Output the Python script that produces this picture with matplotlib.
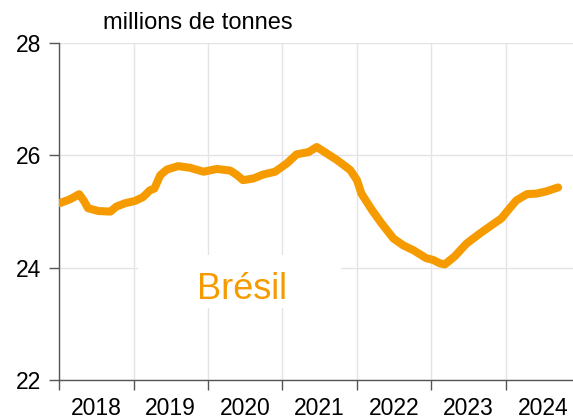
import matplotlib
matplotlib.use("Agg")
import matplotlib.pyplot as plt
from matplotlib.patches import Rectangle

plt.rcParams['font.family'] = ['Liberation Sans', 'DejaVu Sans']

# Brésil, millions de tonnes
dates = [2018.01, 2018.15, 2018.27, 2018.33, 2018.39, 2018.53, 2018.69, 2018.77,
         2018.89, 2019.02, 2019.13, 2019.22, 2019.28, 2019.36, 2019.45, 2019.60,
         2019.76, 2019.94, 2020.12, 2020.30, 2020.39, 2020.47, 2020.61, 2020.74,
         2020.90, 2021.06, 2021.19, 2021.35, 2021.46, 2021.59, 2021.73, 2021.91,
         2022.00, 2022.06, 2022.20, 2022.33, 2022.49, 2022.62, 2022.76, 2022.93,
         2023.02, 2023.11, 2023.18, 2023.31, 2023.47, 2023.65, 2023.81, 2023.94,
         2024.05, 2024.14, 2024.28, 2024.41, 2024.54, 2024.70]
values = [25.15, 25.22, 25.31, 25.20, 25.06, 25.01, 25.00, 25.09,
          25.15, 25.19, 25.26, 25.38, 25.41, 25.65, 25.75, 25.81,
          25.78, 25.71, 25.76, 25.73, 25.65, 25.56, 25.59, 25.66,
          25.71, 25.86, 26.02, 26.06, 26.15, 26.04, 25.92, 25.74,
          25.56, 25.32, 25.03, 24.79, 24.52, 24.40, 24.31, 24.17,
          24.14, 24.08, 24.06, 24.20, 24.43, 24.61, 24.76, 24.88,
          25.06, 25.20, 25.31, 25.32, 25.36, 25.43]
years = [2018, 2019, 2020, 2021, 2022, 2023, 2024]
yticks = [22, 24, 26, 28]

orange = '#F59B00'
grid_col = '#E3E3E8'

fig = plt.figure(figsize=(5.73, 4.19), dpi=100)
ax = fig.add_axes([0.103, 0.093, 0.897, 0.804])

ax.plot(dates, values, color=orange, lw=5.8, solid_capstyle='round',
        solid_joinstyle='round', zorder=4)

ax.set_xlim(2018, 2024.9)
ax.set_ylim(22, 28)
ax.set_yticks(yticks)
ax.set_xticks(years)
ax.set_xticklabels([])
ax.set_xticks([y + 0.5 for y in years], minor=True)
ax.set_xticklabels([str(y) for y in years], minor=True)
ax.tick_params(axis='x', which='minor', length=0, pad=12.5, labelsize=16.5)
ax.tick_params(axis='x', which='major', length=7, width=1, color='#555555')
ax.tick_params(axis='y', length=7, width=1, color='#555555', pad=6, labelsize=16.5)

ax.grid(True, which='major', color=grid_col, lw=1)
ax.set_axisbelow(True)
for s in ['top', 'right']:
    ax.spines[s].set_visible(False)
for s in ['left', 'bottom']:
    ax.spines[s].set_color('#555555')
    ax.spines[s].set_linewidth(1)

# white box behind the label hides the grid
ax.add_patch(Rectangle((2019.06, 23.28), 2.72, 0.95, facecolor='white',
                       edgecolor='none', zorder=2))
ax.text(2020.46, 23.44, 'Brésil', color=orange, fontsize=26,
        ha='center', va='baseline', zorder=3)

fig.text(0.18, 0.945, 'millions de tonnes', fontsize=17, ha='left', va='center')

fig.savefig('out.png', dpi=100)
